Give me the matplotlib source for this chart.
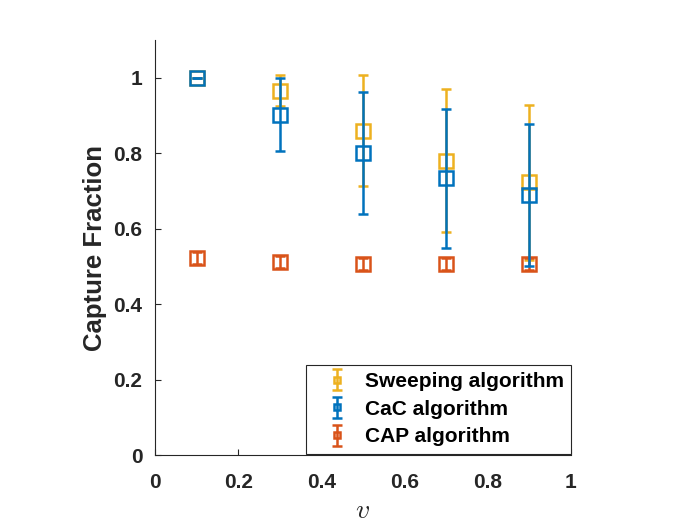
import matplotlib
matplotlib.use('Agg')
import matplotlib.pyplot as plt

# datos
v = [0.1, 0.3, 0.5, 0.7, 0.9]
sweep_mean = [1.0, 0.966, 0.859, 0.780, 0.723]
sweep_err = [0.0, 0.040, 0.147, 0.190, 0.206]
cac_mean = [0.998, 0.902, 0.801, 0.733, 0.689]
cac_err = [0.0, 0.097, 0.162, 0.185, 0.188]
cap_mean = [0.522, 0.511, 0.507, 0.506, 0.506]
cap_err = [0.016, 0.016, 0.016, 0.016, 0.016]

amarillo = '#EDB120'
azul = '#0072BD'
rojo = '#D95319'
gris = '#262626'

plt.rcParams['font.family'] = ['Liberation Sans', 'DejaVu Sans']
plt.rcParams['font.weight'] = 'bold'
plt.rcParams['mathtext.fontset'] = 'cm'

fig = plt.figure(figsize=(7, 5.25), dpi=100)
ax = fig.add_axes([0.2214, 0.1333, 0.5943, 0.7905])

estilo = dict(fmt='s', ms=10, mfc='none', mew=1.8, elinewidth=1.8, capsize=3.6, capthick=1.8)
h1 = ax.errorbar(v, sweep_mean, yerr=sweep_err, color=amarillo, zorder=2, **estilo)
h3 = ax.errorbar(v, cap_mean, yerr=cap_err, color=rojo, zorder=3, **estilo)
h2 = ax.errorbar(v, cac_mean, yerr=cac_err, color=azul, zorder=4, **estilo)

ax.set_xlim(0, 1)
ax.set_ylim(0, 1.1)
ax.set_xticks([0, 0.2, 0.4, 0.6, 0.8, 1])
ax.set_xticklabels(['0', '0.2', '0.4', '0.6', '0.8', '1'])
ax.set_yticks([0, 0.2, 0.4, 0.6, 0.8, 1])
ax.set_yticklabels(['0', '0.2', '0.4', '0.6', '0.8', '1'])
ax.tick_params(direction='in', length=4, width=0.8, colors=gris, labelsize=15)
ax.tick_params(axis='x', pad=13)
ax.tick_params(axis='y', pad=9)
for t in ax.get_xticklabels() + ax.get_yticklabels():
    t.set_fontweight('bold')
ax.spines['top'].set_visible(False)
ax.spines['right'].set_visible(False)
ax.spines['left'].set_color(gris)
ax.spines['bottom'].set_color(gris)

ax.set_xlabel('$v$', fontsize=20, color=gris, labelpad=4)
ax.set_ylabel('Capture Fraction', fontsize=18.5, fontweight='bold', color=gris, labelpad=5)

leg = ax.legend([h1, h2, h3], ['Sweeping algorithm', 'CaC algorithm', 'CAP algorithm'],
                loc='lower right', bbox_to_anchor=(1.0, 0.003), fancybox=False,
                edgecolor=gris, framealpha=1, borderaxespad=0.0, borderpad=0.35,
                handlelength=2.2, handletextpad=0.25, labelspacing=0.42, markerscale=0.5,
                prop={'weight': 'bold', 'size': 15})
leg.get_frame().set_linewidth(0.8)

fig.savefig('out.png', dpi=100)
